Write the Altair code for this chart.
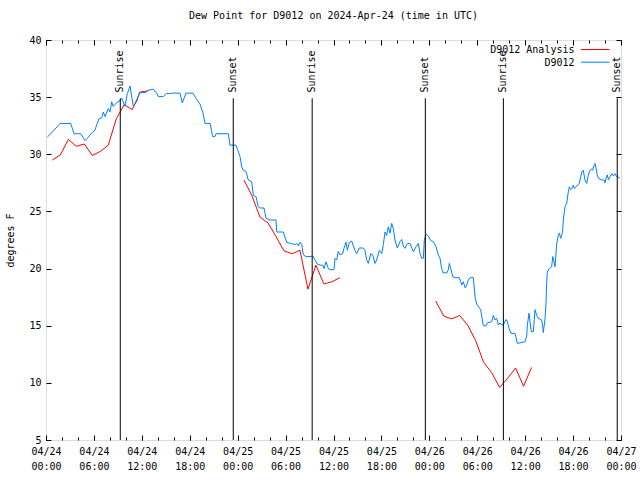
import altair as alt
import pandas as pd

MONO = "DejaVu Sans Mono"

# ---------------- data ----------------
# hours after 2024-04-24 00:00 UTC
blue_hours = [0.16, 0.88, 1.38, 1.75, 3.09, 3.51, 4.35, 4.88, 5.30, 5.76, 6.14, 6.35, 6.64, 6.98, 7.18,
              7.39, 7.80, 8.01, 8.23, 8.39, 8.77, 9.02, 9.27, 9.48, 9.89, 10.18, 10.52, 10.93, 11.36,
              11.68, 12.52, 12.77, 13.44, 13.86, 14.06, 14.69, 15.03, 15.94, 16.78, 17.07, 17.53,
              18.41, 18.78, 19.28, 19.66, 19.91, 20.54, 20.87, 21.16, 21.29, 22.83, 23.04, 23.79,
              24.00, 24.29, 24.51, 24.71, 25.04, 25.33, 25.76, 25.96, 26.30, 26.58, 26.80, 27.30,
              27.55, 28.05, 28.80, 28.89, 29.71, 30.14, 30.64, 31.18, 31.39, 31.59, 31.81, 32.02,
              32.22, 32.56, 33.06, 33.40, 33.68, 33.97, 34.40, 34.65, 34.81, 35.06, 35.35, 35.56,
              36.06, 36.19, 36.40, 36.60, 36.81, 37.15, 37.32, 37.57, 37.73, 37.98, 38.28, 38.69,
              38.91, 39.23, 39.73, 39.94, 40.16, 40.36, 40.66, 40.91, 41.20, 41.41, 41.74, 42.04,
              42.24, 42.45, 42.66, 42.86, 43.08, 43.29, 43.49, 43.70, 43.99, 44.33, 44.54, 44.74,
              44.95, 45.24, 45.58, 45.99, 46.33, 46.62, 46.83, 47.05, 47.25, 47.37, 47.58, 47.87,
              48.17, 48.50, 48.84, 49.12, 49.34, 49.55, 49.75, 49.96, 50.17, 50.38, 50.50, 50.68,
              50.93, 51.22, 51.75, 51.93, 52.05, 52.25, 52.50, 52.68, 52.88, 53.09, 53.51, 53.72,
              53.93, 54.13, 54.43, 54.76, 55.10, 55.26, 55.81, 56.01, 56.22, 56.44, 56.64, 56.85,
              57.06, 57.27, 57.61, 57.77, 57.98, 58.23, 58.73, 59.02, 59.36, 59.98, 60.19, 60.27,
              60.48, 60.61, 60.77, 61.02, 61.23, 61.44, 61.65, 62.07, 62.20, 62.27, 62.48, 62.60,
              62.69, 62.77, 63.02, 63.32, 63.45, 63.61, 63.74, 63.86, 63.95, 64.15, 64.28, 64.45,
              64.58, 64.70, 64.78, 64.90, 64.99, 65.20, 65.40, 65.53, 65.70, 65.83, 66.03, 66.15,
              66.37, 66.53, 66.78, 66.96, 67.12, 67.28, 67.49, 67.71, 67.91, 68.12, 68.33, 68.46,
              68.62, 68.75, 68.87, 69.03, 69.16, 69.58, 69.87, 70.00, 70.12, 70.29, 70.42, 70.63,
              70.84, 71.04, 71.24, 71.46, 71.66, 71.88]
blue_dewpt = [31.5, 32.0, 32.4, 32.7, 32.7, 31.8, 31.8, 31.2, 31.5, 31.9, 32.1, 32.6, 33.1, 33.2, 33.7,
              33.3, 34.0, 33.7, 34.6, 34.2, 34.45, 34.6, 34.7, 34.9, 34.2, 35.3, 35.97, 34.2, 34.6,
              35.4, 35.4, 35.6, 35.7, 35.35, 35.05, 35.05, 35.3, 35.35, 35.35, 34.5, 35.35,
              35.35, 34.9, 34.4, 33.6, 32.7, 32.7, 31.55, 31.55, 31.8, 31.8, 30.8, 30.8,
              30.4, 29.8, 28.9, 28.6, 28.5, 27.75, 27.6, 26.4, 26.3, 25.4, 25.3, 25.3,
              24.4, 24.25, 24.25, 23.2, 23.2, 22.3, 22.2, 22.1, 22.2, 22.0, 22.3, 22.1,
              21.2, 21.05, 21.05, 21.1, 20.75, 20.4, 20.3, 20.3, 20.0, 20.6, 20.0, 19.9,
              19.9, 20.9, 20.75, 21.5, 21.2, 21.3, 21.8, 22.3, 21.6, 22.3, 22.4, 21.6,
              21.3, 21.8, 21.8, 21.6, 20.75, 20.45, 21.3, 21.2, 20.45, 20.75, 21.6, 21.3,
              22.1, 23.2, 22.9, 23.65, 23.1, 23.95, 23.5, 22.5, 21.8, 22.35, 22.55, 21.97,
              21.77, 22.2, 22.2, 21.47, 21.9, 22.2, 21.33, 20.9, 20.9, 22.5, 23.0, 22.85,
              22.45, 22.35, 21.9, 21.2, 20.9, 20.0, 19.6, 19.7, 19.6, 19.9, 20.45, 20.0,
              19.3, 19.2, 19.2, 18.85, 18.55, 18.85, 18.3, 18.55, 19.0, 19.2, 19.2, 17.55,
              16.9, 16.7, 16.4, 15.0, 15.0, 15.25, 15.35, 15.9, 15.5, 15.65, 15.06, 15.25,
              15.06, 15.06, 15.55, 15.35, 14.77, 14.33, 14.33, 13.46, 13.5, 13.6, 14.1, 15.0,
              16.1, 15.35, 14.47, 14.47, 16.4, 15.9, 15.65, 15.5, 14.9, 14.4, 15.55, 16.8,
              18.7, 19.7, 20.0, 20.15, 21.05, 20.6, 20.15, 21.3, 22.2, 22.9, 23.1, 22.65,
              22.9, 23.4, 24.25, 24.97, 25.4, 25.7, 26.7, 27.15, 26.9, 27.0, 27.3, 27.0,
              27.15, 27.3, 27.45, 28.05, 28.5, 28.6, 27.75, 27.45, 28.2, 28.6, 28.7, 28.6,
              29.05, 29.2, 28.8, 28.2, 27.9, 27.75, 27.75, 27.5, 27.9, 28.2, 27.75, 28.05,
              28.3, 28.1, 28.3, 28.05, 28.0, 27.9]

red_hours = [0.8, 1.8, 2.8, 3.8, 4.8, 5.8, 6.8, 7.8, 8.8, 9.8, 10.8, 11.8, 12.8,
             24.8, 25.8, 26.8, 27.8, 28.8, 29.8, 30.8, 31.8, 32.8, 33.8, 34.8, 35.8, 36.8,
             48.8, 49.8, 50.8, 51.8, 52.8, 53.8, 54.8, 55.8, 56.8, 57.8, 58.8, 59.8, 60.8]
red_dewpt = [29.5, 29.95, 31.3, 30.7, 30.9, 29.9, 30.25, 30.8, 33.1, 34.35, 33.9, 35.45, 35.55,
             27.75, 26.35, 24.5, 24.0, 22.8, 21.55, 21.3, 21.6, 18.2, 20.3, 18.65, 18.85, 19.2,
             17.16, 15.85, 15.6, 15.9, 15.05, 13.7, 11.8, 10.9, 9.6, 10.4, 11.3, 9.7, 11.35]
red_seg = [1] * 13 + [2] * 13 + [3] * 13

event_hours = [9.30, 23.45, 33.33, 47.50, 57.27, 71.53]
event_labels = ["Sunrise", "Sunset", "Sunrise", "Sunset", "Sunrise", "Sunset"]

legend_labels = ["D9012 Analysis", "D9012"]
legend_colors = ["#ff0000", "#0080ff"]

title_text = "Dew Point for D9012 on 2024-Apr-24 (time in UTC)"
y_title = "degrees F"
y_ticks = [5, 10, 15, 20, 25, 30, 35, 40]

# ---------------- tables ----------------
base = pd.Timestamp("2024-04-24T00:00:00")


def iso(hours):
    return [(base + pd.Timedelta(hours=h)).strftime("%Y-%m-%dT%H:%M:%SZ") for h in hours]


blue_df = pd.DataFrame({"t": iso(blue_hours), "v": blue_dewpt})
red_df = pd.DataFrame({"t": iso(red_hours), "v": red_dewpt, "seg": red_seg})
ev_df = pd.DataFrame({"t": iso(event_hours), "label": event_labels})


def dt(h):
    return alt.DateTime(year=2024, month=4, date=24 + h // 24, hours=h % 24, utc=True)


major_vals = [dt(h) for h in range(0, 73, 6)]
minor_vals = [dt(h) for h in range(0, 73, 2)]

xscale = alt.Scale(type="utc", domain=[dt(0), dt(72)], nice=False)
yscale = alt.Scale(domain=[5, 40], nice=False, zero=False)

common = dict(domain=False, grid=False, tickColor="black", tickWidth=1, title=None)

ax_bottom_major = alt.Axis(orient="bottom", values=major_vals, offset=-5, tickSize=5,
                           labelExpr="[utcFormat(datum.value, '%m/%d'), utcFormat(datum.value, '%H:%M')]",
                           labelFont=MONO, labelFontSize=10, labelColor="black", labelPadding=6,
                           labelLineHeight=15, labelAngle=0, labelFlush=False, labelOverlap=False,
                           labelBound=False, **common)
ax_top_major = alt.Axis(orient="top", values=major_vals, offset=-5, tickSize=5, labels=False, **common)
ax_bottom_minor = alt.Axis(orient="bottom", values=minor_vals, offset=-3, tickSize=3, labels=False, **common)
ax_top_minor = alt.Axis(orient="top", values=minor_vals, offset=-3, tickSize=3, labels=False, **common)

ax_left = alt.Axis(orient="left", values=y_ticks, offset=-5, tickSize=5, domain=False, grid=False,
                   tickColor="black", labelFont=MONO, labelFontSize=10, labelColor="black",
                   labelPadding=5, labelOverlap=False, labelFlush=False,
                   title=y_title, titleFont=MONO, titleFontSize=10, titleFontWeight="normal",
                   titleColor="black", titlePadding=13)
ax_right = alt.Axis(orient="right", values=y_ticks, offset=-5, tickSize=5, labels=False, **common)

red = alt.Chart(red_df).mark_line(color=legend_colors[0], strokeWidth=1).encode(
    x=alt.X("t:T", scale=xscale, axis=ax_bottom_major),
    y=alt.Y("v:Q", scale=yscale, axis=ax_left),
    detail="seg:N",
)
blue = alt.Chart(blue_df).mark_line(color=legend_colors[1], strokeWidth=1).encode(
    x=alt.X("t:T", scale=xscale, axis=ax_top_major),
    y=alt.Y("v:Q", scale=yscale, axis=ax_right),
)
rules = alt.Chart(ev_df).mark_rule(color="black", strokeWidth=1).encode(
    x=alt.X("t:T", scale=xscale, axis=ax_bottom_minor),
    y=alt.YDatum(34.9, axis=None),
    y2=alt.Y2Datum(5),
)
texts = alt.Chart(ev_df).mark_text(angle=270, align="left", baseline="middle", font=MONO,
                                   fontSize=10, color="black").encode(
    x=alt.X("t:T", scale=xscale, axis=ax_top_minor),
    y=alt.YDatum(35.4, axis=None),
    text="label:N",
)

legend_layers = []
for i, (lab, col) in enumerate(zip(legend_labels, legend_colors)):
    ldf = pd.DataFrame({"label": [lab]})
    legend_layers.append(
        alt.Chart(ldf).mark_rule(strokeWidth=1, strokeCap="butt").encode(
            x=alt.value(535), x2=alt.value(563.5), y=alt.value(9.5 + 12.7 * i),
            color=alt.value(col))
    )
    legend_layers.append(
        alt.Chart(ldf).mark_text(align="right", baseline="middle", font=MONO, fontSize=10,
                                 color="black").encode(
            text="label:N", x=alt.value(528.5), y=alt.value(10 + 12.7 * i))
    )

chart = alt.layer(red, blue, rules, texts, *legend_layers).resolve_axis(
    x="independent", y="independent"
).properties(
    width=575,
    height=400,
    title=alt.TitleParams(title_text, font=MONO, fontSize=10, fontWeight="normal",
                          anchor="middle", offset=14, color="black"),
    autosize=alt.AutoSizeParams(type="none"),
    padding={"left": 46, "top": 40, "right": 19, "bottom": 40},
    background="white",
).configure_view(stroke="black", strokeWidth=1).configure(font=MONO)

chart.save("out.html", embed_options={"renderer": "svg", "actions": False})
